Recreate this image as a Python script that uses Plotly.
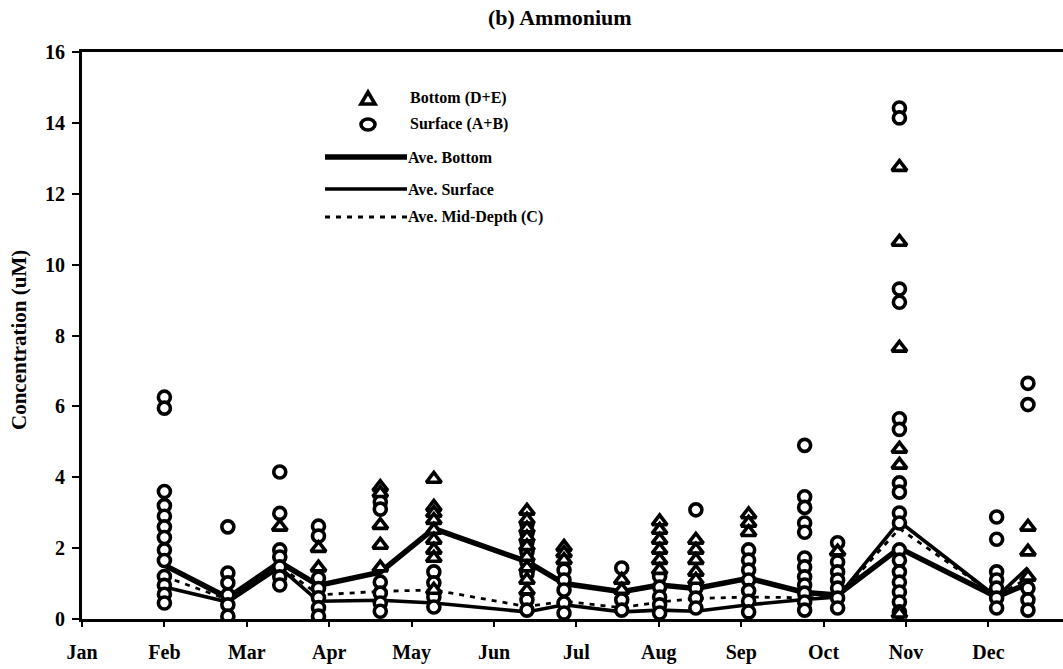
import plotly.graph_objects as go

# ---- data ---------------------------------------------------------------
months = ["Jan", "Feb", "Mar", "Apr", "May", "Jun",
          "Jul", "Aug", "Sep", "Oct", "Nov", "Dec"]

# sampling dates, expressed in months since 1 Jan
sample_month = [1.00, 1.77, 2.40, 2.87, 3.62, 4.27, 5.40, 5.85, 6.55,
                7.01, 7.45, 8.09, 8.77, 9.17, 9.92, 11.10, 11.48]

# bottom samples (stations D+E), one list per sampling date
bottom_conc = [
    [],
    [],
    [2.6],
    [2.0, 1.45],
    [3.72, 3.55, 2.65, 2.09, 1.45],
    [3.95, 3.16, 2.99, 2.79, 2.51, 2.23, 1.95, 1.72, 0.82],
    [3.05, 2.8, 2.55, 2.3, 2.05, 1.75, 1.45, 1.1, 0.8],
    [2.03, 1.86, 1.66],
    [1.1, 0.82],
    [2.75, 2.51, 2.23, 1.95, 1.66, 1.38],
    [2.23, 1.95, 1.66, 1.33, 1.1],
    [2.95, 2.71, 2.45],
    [],
    [1.9],
    [12.75, 10.64, 7.65, 4.8, 4.35, 0.15],
    [],
    [2.6, 1.9, 1.19],
]

# surface samples (stations A+B), one list per sampling date
surface_conc = [
    [6.26, 5.95, 3.6, 3.2, 2.9, 2.6, 2.3, 1.95, 1.65, 1.2, 0.95, 0.7, 0.45],
    [2.6, 1.3, 1.02, 0.68, 0.4, 0.08],
    [4.15, 2.98, 1.95, 1.75, 1.47, 1.19, 0.96],
    [2.62, 2.34, 1.15, 0.86, 0.6, 0.32, 0.08],
    [3.3, 3.1, 1.04, 0.73, 0.45, 0.22],
    [1.33, 1.02, 0.62, 0.34],
    [2.68, 2.43, 2.17, 1.9, 1.6, 1.28, 0.54, 0.25],
    [1.38, 1.1, 0.82, 0.45, 0.17],
    [1.44, 0.54, 0.25],
    [1.2, 0.9, 0.62, 0.4, 0.17],
    [3.08, 0.87, 0.59, 0.31],
    [1.95, 1.66, 1.38, 1.1, 0.8, 0.5, 0.2],
    [4.9, 3.45, 3.15, 2.71, 2.45, 1.72, 1.47, 1.19, 0.96, 0.73, 0.48, 0.25],
    [2.15, 1.61, 1.33, 1.1, 0.87, 0.59, 0.31],
    [14.42, 14.14, 9.31, 8.94, 5.65, 5.35, 3.84, 3.58, 2.99, 2.71,
     1.95, 1.66, 1.33, 1.04, 0.76, 0.48, 0.2],
    [2.88, 2.25, 1.33, 1.1, 0.87, 0.59, 0.31],
    [6.65, 6.05, 0.87, 0.54, 0.25],
]

# averages per sampling date
avg_bottom = [1.52, 0.60, 1.60, 0.95, 1.32, 2.55, 1.62, 1.00, 0.77,
              0.96, 0.86, 1.15, 0.75, 0.68, 2.00, 0.62, 1.00]
avg_surface = [0.90, 0.48, 1.45, 0.50, 0.53, 0.45, 0.20, 0.40, 0.20,
               0.25, 0.22, 0.40, 0.55, 0.62, 2.75, 0.62, 1.45]
avg_mid = [1.20, 0.55, 1.50, 0.68, 0.78, 0.82, 0.35, 0.50, 0.32,
           0.48, 0.58, 0.62, 0.60, 0.62, 2.55, 0.64, 1.15]

y_ticks = [0, 2, 4, 6, 8, 10, 12, 14, 16]


def flatten(groups):
    xs, ys = [], []
    for m, vals in zip(sample_month, groups):
        for v in vals:
            xs.append(m)
            ys.append(v)
    return xs, ys


# ---- layout constants (pixels) -----------------------------------------
W, H = 1063, 669
L, T, B = 82, 52, 50
PW, PH = W - L, H - T - B
PX_PER_MONTH = 82.4
SERIF = "Liberation Serif"

fig = go.Figure()

# average lines
fig.add_trace(go.Scatter(x=sample_month, y=avg_mid, mode="lines",
                         line=dict(color="black", width=2.8, dash="5px,6px"),
                         name="Ave. Mid-Depth (C)", showlegend=False))
fig.add_trace(go.Scatter(x=sample_month, y=avg_surface, mode="lines",
                         line=dict(color="black", width=3.6),
                         name="Ave. Surface", showlegend=False))
fig.add_trace(go.Scatter(x=sample_month, y=avg_bottom, mode="lines",
                         line=dict(color="black", width=5.5),
                         name="Ave. Bottom", showlegend=False))

# individual samples
bx, by = flatten(bottom_conc)
sx, sy = flatten(surface_conc)
fig.add_trace(go.Scatter(x=sx, y=sy, mode="markers", name="Surface (A+B)",
                         marker=dict(symbol="circle", size=12, color="white",
                                     line=dict(color="black", width=3.6)),
                         showlegend=False))
fig.add_trace(go.Scatter(x=bx, y=by, mode="markers", name="Bottom (D+E)",
                         marker=dict(symbol="triangle-up", size=13, color="white",
                                     line=dict(color="black", width=3.6)),
                         showlegend=False))


# ---- hand-placed key inside the plot area -------------------------------
def px(xp):
    return (xp - L) / PW


def py(yp):
    return (T + PH - yp) / PH


shapes = []
annotations = []
key_text = dict(family=SERIF, size=16, color="black", weight="bold")

# marker entries
tri_cx, tri_cy = 368, 99
tri = (f"M {px(tri_cx - 7)} {py(tri_cy + 5)} L {px(tri_cx + 7)} {py(tri_cy + 5)} "
       f"L {px(tri_cx)} {py(tri_cy - 7)} Z")
shapes.append(dict(type="path", xref="paper", yref="paper", path=tri,
                   line=dict(color="black", width=3.6), fillcolor="white"))
shapes.append(dict(type="circle", xref="paper", yref="paper",
                   x0=px(361), x1=px(375), y0=py(119), y1=py(130),
                   line=dict(color="black", width=3.6), fillcolor="white"))
annotations.append(dict(x=px(408), y=py(98), xref="paper", yref="paper",
                        text="Bottom (D+E)", showarrow=False, xanchor="left",
                        yanchor="middle", font=key_text))
annotations.append(dict(x=px(408), y=py(124), xref="paper", yref="paper",
                        text="Surface (A+B)", showarrow=False, xanchor="left",
                        yanchor="middle", font=key_text))

# line entries
for yline, width, dash, label in [(157, 5.5, "solid", "Ave. Bottom"),
                                  (189, 3.6, "solid", "Ave. Surface"),
                                  (217, 2.8, "5px,6px", "Ave. Mid-Depth (C)")]:
    shapes.append(dict(type="line", xref="paper", yref="paper",
                       x0=px(325), x1=px(407), y0=py(yline), y1=py(yline),
                       line=dict(color="black", width=width, dash=dash)))
    annotations.append(dict(x=px(406), y=py(yline), xref="paper", yref="paper",
                            text=label, showarrow=False, xanchor="left",
                            yanchor="middle", font=key_text))

# chart title and y-axis title
annotations.append(dict(x=px(560), y=py(18), xref="paper", yref="paper",
                        text="(b) Ammonium", showarrow=False,
                        xanchor="center", yanchor="middle",
                        font=dict(family=SERIF, size=22, color="black", weight="bold")))
annotations.append(dict(x=px(19), y=py(340), xref="paper", yref="paper",
                        text="Concentration (uM)", showarrow=False, textangle=-90,
                        xanchor="center", yanchor="middle",
                        font=dict(family=SERIF, size=21, color="black", weight="bold")))

axis_font = dict(family=SERIF, size=20, color="black", weight="bold")

fig.update_layout(
    width=W, height=H,
    margin=dict(l=L, r=0, t=T, b=B, autoexpand=False),
    paper_bgcolor="white", plot_bgcolor="white",
    shapes=shapes, annotations=annotations,
    showlegend=False,
    xaxis=dict(range=[0, PW / PX_PER_MONTH], tickvals=list(range(12)),
               ticktext=months, ticks="outside", ticklen=5, tickwidth=2,
               tickcolor="black", showgrid=False, zeroline=False,
               showline=True, linecolor="black", linewidth=3, mirror=True,
               tickfont=axis_font, ticklabelstandoff=8),
    yaxis=dict(range=[0, 16], tickvals=y_ticks, ticks="outside", ticklen=7,
               tickwidth=2, tickcolor="black", showgrid=False, zeroline=False,
               showline=True, linecolor="black", linewidth=3,
               tickfont=axis_font, ticklabelstandoff=3),
)

fig.write_html("out.html")
